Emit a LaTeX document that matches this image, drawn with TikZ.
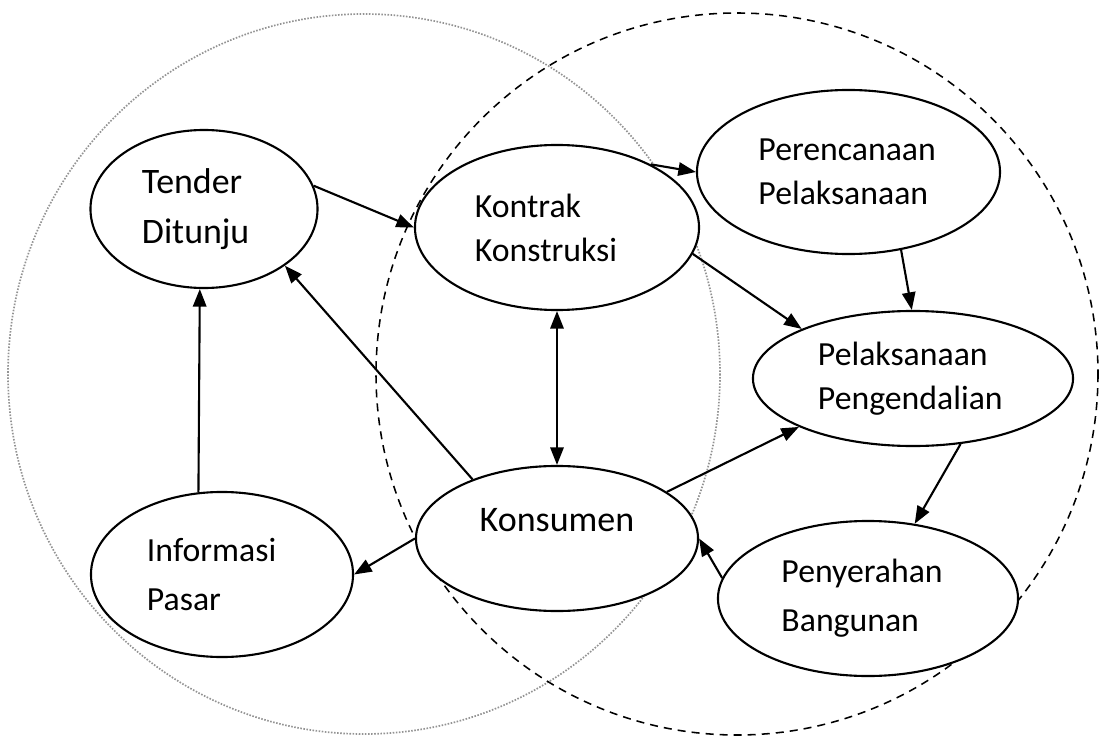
\documentclass[tikz,border=0pt]{standalone}
\usepackage{fontspec}
\setmainfont{Carlito}
\usetikzlibrary{arrows.meta,shapes.geometric}

\begin{document}
\begin{tikzpicture}[
    x=0.025cm, y=-0.025cm,
    >={Triangle[length=12.5pt,width=9.5pt]},
    stage/.style={ellipse, draw, line width=1.5pt, fill=white, inner sep=0pt,
                  align=left, font=\fontsize{24}{31.3}\selectfont},
    flow/.style={line width=1.5pt, ->}
]
    \useasboundingbox (0,0) rectangle (1100,736);

    % Two overlapping circles
    \draw[gray!85, line width=1.2pt, dash pattern=on 1.1pt off 1.1pt] (364,374) ellipse [x radius=356, y radius=360];
    \draw[line width=1.1pt, dash pattern=on 5.7pt off 4.3pt] (737,374) circle [radius=361];

    % Stages
    \node[stage, minimum width=5.675cm, minimum height=3.95cm, text width=3.1cm,
          font=\fontsize{25.5}{35.5}\selectfont] (tender) at (204,209) {Tender\\Ditunju};
    \node[stage, minimum width=7.1cm, minimum height=4.125cm, text width=4.1cm] (kontrak) at (557,227.5) {Kontrak\\Konstruksi};
    \node[stage, minimum width=7.575cm, minimum height=4.1cm, text width=4.5cm] (rencana) at (848.5,172) {Perencanaan\\Pelaksanaan};
    \node[stage, minimum width=8cm, minimum height=3.375cm, text width=4.75cm] (kendali) at (913,378.5) {Pelaksanaan\\Pengendalian};
    \node[stage, minimum width=7.05cm, minimum height=3.625cm, text height=0pt, text depth=0.375cm,
          font=\fontsize{25.6}{30}\selectfont] (konsumen) at (557,538.5) {Konsumen};
    \node[stage, minimum width=6.55cm, minimum height=4.125cm, text width=3.75cm,
          font=\fontsize{24}{35.5}\selectfont] (pasar) at (222,574.5) {Informasi\\Pasar};
    \node[stage, minimum width=7.5cm, minimum height=3.875cm, text width=4.325cm,
          font=\fontsize{24}{34.8}\selectfont] (serah) at (868,598.5) {Penyerahan\\Bangunan};

    % Arrows
    \draw[flow] (tender.12.5) -- (kontrak.west);
    \draw[flow] (konsumen.145.3) -- (tender.-35.9);
    \draw[flow] (pasar.106.7) -- (tender.267.5);
    \draw[flow, <->] (kontrak) -- (konsumen);
    \draw[flow] (konsumen.west) -- (pasar.east);
    \draw[flow] (kontrak.34.7) -- (rencana.west);
    \draw[flow] (kontrak.-11) -- (kendali.156.1);
    \draw[flow] (rencana.-56.5) -- (kendali.91);
    \draw[flow] (konsumen.23.4) -- (kendali.203.5);
    \draw[flow] (kendali.-54.8) -- (serah.58.8);
    \draw[flow] (serah.172.1) -- (konsumen.east);
\end{tikzpicture}
\end{document}
